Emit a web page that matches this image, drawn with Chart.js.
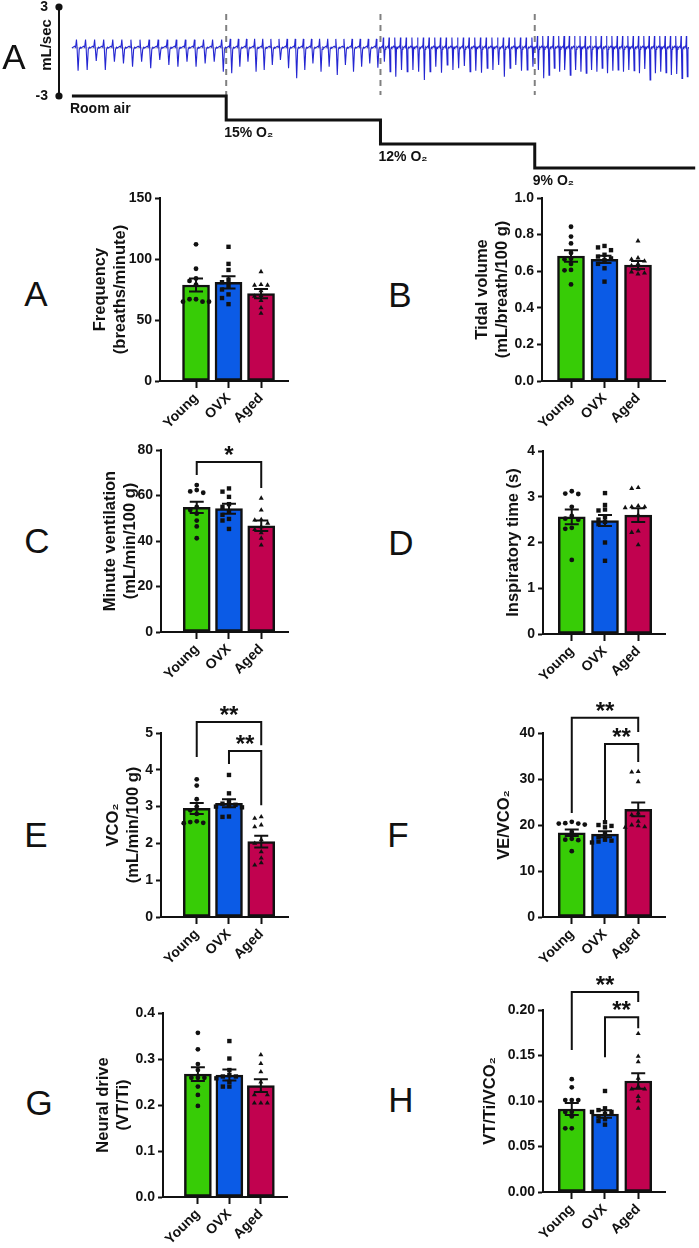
<!DOCTYPE html>
<html>
<head>
<meta charset="utf-8">
<script src="https://cdn.jsdelivr.net/npm/chart.js@4.4.1/dist/chart.umd.min.js"></script>
<style>
  body { margin: 0; background: #fff; width: 699px; height: 1248px; position: relative; overflow: hidden;
         font-family: 'Liberation Sans', Arial, sans-serif; }
  canvas { position: absolute; }
  .lbl { position: absolute; line-height: 1; transform: translate(-50%, -50%); white-space: nowrap; color: #111; }
</style>
</head>
<body>
<script>
// ---------- trace (mL/sec), trough of each breath per condition ----------
const o2Labels = ['Room air', '15% O₂', '12% O₂', '9% O₂'];
const o2Steps = [0, 1, 2, 3];
const roomAirTroughs = [-1.29, -1.25, -0.64, -1.25, -0.69, -0.80, -1.02, -0.69, -1.13, -0.57, -0.91, -1.02, -0.69, -1.02, -0.80, -0.69, -1.36];
const o2_15Troughs = [-1.47, -1.02, -0.69, -1.36, -1.25, -0.91, -0.57, -1.13, -1.81, -1.25, -0.80, -1.36, -1.02, -1.59, -0.91, -1.36, -1.02, -0.80, -1.10];
const o2_12Troughs = [-0.69, -1.36, -1.70, -1.25, -1.36, -1.25, -1.36, -1.92, -1.36, -1.02, -1.43, -0.91, -1.25, -1.13, -0.98, -1.36, -1.29, -1.43, -1.13, -1.25, -0.91, -1.70, -1.13, -0.91, -1.29, -1.25, -1.02];
const o2_9Troughs = [-1.25, -1.81, -1.59, -1.13, -1.36, -1.25, -1.59, -1.25, -1.36, -1.47, -1.25, -1.36, -1.13, -1.47, -1.29, -1.25, -1.36, -1.25, -1.29, -1.47, -1.18, -1.92, -1.47, -1.36, -1.43, -1.59, -1.52, -1.81, -1.70];
const tracePeaks = [0.80, 0.85, 0.95, 1.05];
const traceBaseline = 0.24;
const scaleBar = [-3, 3];

// ---------- bar panels ----------
const groups = ['Young', 'OVX', 'Aged'];

const freqMean = [78.7, 80.9, 71.6];
const freqSem = [5.3, 5.0, 3.8];
const freqYoung = [112, 92, 84, 82, 79, 67, 65, 65, 65, 67];
const freqOvx = [110, 96, 91, 83, 81, 78, 75, 71, 68, 63];
const freqAged = [89.6, 79, 78.5, 78.5, 74, 70, 69.5, 66, 60, 55.5];

const tvMean = [0.683, 0.665, 0.634];
const tvSem = [0.032, 0.020, 0.022];
const tvYoung = [0.843, 0.789, 0.752, 0.70, 0.668, 0.665, 0.64, 0.607, 0.605, 0.528];
const tvOvx = [0.738, 0.73, 0.715, 0.69, 0.68, 0.67, 0.66, 0.64, 0.616, 0.543];
const tvAged = [0.765, 0.672, 0.665, 0.655, 0.64, 0.63, 0.61, 0.596, 0.59, 0.585];

const mvMean = [54.8, 54.2, 46.7];
const mvSem = [2.5, 2.2, 2.3];
const mvYoung = [64.6, 62.4, 61.8, 61.2, 55, 53.6, 52, 49, 46.4, 41.2];
const mvOvx = [63.1, 61.7, 59.4, 56.2, 55.0, 53.1, 51.5, 49.7, 49.0, 45.3];
const mvAged = [58.8, 53.6, 49.4, 49.2, 47.8, 46.2, 45.0, 43.6, 41.2, 38.2];
const mvSig = [[0, 2, 74.7, 69, 63.3, '*']];

const tiMean = [2.56, 2.48, 2.60];
const tiSem = [0.16, 0.12, 0.15];
const tiYoung = [3.12, 3.07, 3.06, 2.78, 2.58, 2.52, 2.5, 2.32, 2.30, 1.62];
const tiOvx = [3.08, 2.82, 2.72, 2.70, 2.55, 2.5, 2.45, 2.40, 2.0, 1.6];
const tiAged = [3.2, 3.18, 2.8, 2.78, 2.78, 2.76, 2.6, 2.25, 2.22, 1.95];

const vco2Mean = [2.95, 3.09, 2.05];
const vco2Sem = [0.15, 0.11, 0.16];
const vco2Young = [3.74, 3.57, 3.2, 3.0, 2.9, 2.8, 2.58, 2.56, 2.55, 2.6];
const vco2Ovx = [3.86, 3.36, 3.15, 3.08, 3.05, 3.02, 3.0, 2.98, 2.73, 2.72];
const vco2Aged = [2.72, 2.68, 2.5, 2.45, 2.1, 2.0, 1.77, 1.6, 1.47, 1.41];
const vco2Sig = [[0, 2, 5.3, 4.35, 4.67, '**'], [1, 2, 4.51, 4.16, 3.04, '**']];

const veMean = [18.3, 18.0, 23.4];
const veSem = [0.7, 0.65, 1.5];
const veYoung = [20.7, 20.4, 20.3, 20.3, 20.1, 18.5, 17.0, 16.8, 16.7, 14.3];
const veOvx = [20.6, 20.0, 19.8, 19.5, 18.0, 17.4, 16.8, 16.6, 16.4, 16.2];
const veAged = [31.6, 31.5, 29.4, 22.6, 22.2, 20.8, 20.0, 19.8, 19.6, 19.5];
const veSig = [[0, 2, 43.3, 22.6, 40.2, '**'], [1, 2, 37.6, 20.2, 33.7, '**']];

const ndMean = [0.267, 0.265, 0.242];
const ndSem = [0.015, 0.012, 0.014];
const ndYoung = [0.357, 0.321, 0.289, 0.276, 0.259, 0.259, 0.259, 0.24, 0.222, 0.198];
const ndOvx = [0.339, 0.301, 0.276, 0.265, 0.262, 0.262, 0.258, 0.25, 0.24, 0.24];
const ndAged = [0.309, 0.29, 0.272, 0.25, 0.229, 0.222, 0.222, 0.204, 0.204, 0.204];

const ndcMean = [0.0912, 0.0857, 0.122];
const ndcSem = [0.0065, 0.004, 0.0085];
const ndcYoung = [0.124, 0.115, 0.101, 0.101, 0.101, 0.088, 0.088, 0.083, 0.070, 0.070];
const ndcOvx = [0.111, 0.092, 0.09, 0.088, 0.088, 0.086, 0.083, 0.08, 0.078, 0.074];
const ndcAged = [0.174, 0.149, 0.143, 0.125, 0.116, 0.113, 0.113, 0.105, 0.1, 0.092];
const ndcSig = [[0, 2, 0.2198, 0.156, 0.2088, '**'], [1, 2, 0.192, 0.148, 0.180, '**']];

// ---------- styling ----------
const INK = '#111';
const FONT = "'Liberation Sans', Arial, sans-serif";
const barColors = ['#37cc06', '#0b5be6', '#c1024f'];
const pointStyles = ['circle', 'rect', 'triangle'];
const pointSizes = [2.4, 3.1, 2.9];
Chart.defaults.font.family = FONT;
Chart.defaults.color = INK;

function addLabel(text, x, y, size, weight, rotate) {
    const d = document.createElement('div');
    d.className = 'lbl';
    d.textContent = text;
    d.style.left = x + 'px';
    d.style.top = y + 'px';
    d.style.fontSize = size + 'px';
    d.style.fontWeight = weight;
    if (rotate) d.style.transform = 'translate(-50%, -50%) rotate(-90deg)';
    document.body.appendChild(d);
}

function addCanvas(left, top, w, h) {
    const cv = document.createElement('canvas');
    cv.width = w;
    cv.height = h;
    cv.style.left = left + 'px';
    cv.style.top = top + 'px';
    document.body.appendChild(cv);
    return cv;
}

// ---------- trace chart ----------
const segTroughs = [roomAirTroughs, o2_15Troughs, o2_12Troughs, o2_9Troughs];
const wave = [];
segTroughs.forEach((troughs, s) => {
    const per = 1 / troughs.length;
    const pk = tracePeaks[s];
    troughs.forEach((v, k) => {
        const t = s + k * per;
        wave.push(
            {x: t, y: traceBaseline},
            {x: t + per * 0.3, y: traceBaseline + 0.12},
            {x: t + per * 0.4, y: traceBaseline + 0.05},
            {x: t + per * 0.5, y: pk},
            {x: t + per * 0.56, y: traceBaseline + 0.1},
            {x: t + per * 0.68, y: v},
            {x: t + per * 0.8, y: traceBaseline - 0.1},
            {x: t + per * 0.92, y: traceBaseline + 0.05}
        );
    });
});

const traceDatasets = [
    {data: wave, borderColor: '#2426d2', borderWidth: 1.1, pointRadius: 0, order: 2},
    {data: [{x: 0, y: traceBaseline}, {x: 4, y: traceBaseline}], borderColor: '#b8b8b8', borderWidth: 1, pointRadius: 0, order: 3},
    {data: scaleBar.map(v => ({x: -0.0839, y: v})), borderColor: INK, borderWidth: 2, pointRadius: 3.6,
     pointBackgroundColor: INK, pointBorderWidth: 0, order: 1, clip: false},
    {data: o2Steps.map(s => ({x: s, y: s})).concat([{x: 4.04, y: 3}]), yAxisID: 'y2', stepped: true,
     borderColor: INK, borderWidth: 3, pointRadius: 0, order: 1, clip: false}
];
o2Steps.slice(1).forEach(s => {
    traceDatasets.push({data: [{x: s, y: 2.53}, {x: s, y: -2.93}], borderColor: '#808080', borderWidth: 2,
        borderDash: [6, 5], pointRadius: 0, order: 4});
});

const traceChart = new Chart(addCanvas(0, 0, 699, 190), {
    type: 'line',
    data: {datasets: traceDatasets},
    options: {
        responsive: false,
        animation: false,
        events: [],
        layout: {padding: {top: 0, right: 1, bottom: 16, left: 0}},
        plugins: {legend: {display: false}, tooltip: {enabled: false}},
        scales: {
            x: {type: 'linear', display: false, min: -0.1097, max: 4.0387},
            y: {
                min: -8, max: 3,
                afterBuildTicks: s => { s.ticks = scaleBar.map(v => ({value: v})); },
                ticks: {padding: 7, color: INK, font: {size: 14, weight: 'bold', lineHeight: 0.4}},
                grid: {display: false, drawTicks: false},
                border: {display: false},
                afterFit: s => { s.width = 55; }
            },
            y2: {display: false, min: -3.71, max: 3.08, reverse: true}
        }
    },
    plugins: [{
        id: 'stepLabels',
        afterDraw(chart) {
            const {ctx, scales: {x, y2}} = chart;
            ctx.save();
            ctx.fillStyle = INK;
            ctx.font = 'bold 14px ' + FONT;
            ctx.textBaseline = 'middle';
            o2Steps.forEach((s, i) => {
                ctx.fillText(o2Labels[i], x.getPixelForValue(s) - 2, y2.getPixelForValue(s) + 13);
            });
            ctx.restore();
        }
    }]
});

// pin the scale bar (3 at y=7, -3 at y=96) and the O2 steps (y=96 .. 168) to the plot area Chart.js settled on
(function pinTrace() {
    const {top, bottom} = traceChart.chartArea;
    const k = (96 - 7) / (scaleBar[1] - scaleBar[0]);
    traceChart.options.scales.y.max = scaleBar[1] + (7 - top) / k;
    traceChart.options.scales.y.min = scaleBar[0] - (bottom - 96) / k;
    const k2 = (168 - 96) / (o2Steps[3] - o2Steps[0]);
    traceChart.options.scales.y2.min = o2Steps[0] - (96 - top) / k2;
    traceChart.options.scales.y2.max = o2Steps[3] + (bottom - 168) / k2;
    traceChart.update();
})();

addLabel('A', 14, 56, 35, 'normal');
addLabel('mL/sec', 45, 45, 15, 'bold', true);

// ---------- bar panels ----------
const colRange = [{min: -1.108, max: 2.83}, {min: -0.866, max: 2.806}];

const panels = [
    {letter: 'A', at: [36, 293], col: 0, area: [160, 198, 288, 381], max: 150, step: 50, dec: 0,
     title: ['Frequency', '(breaths/minute)'], titleX: 100, mean: freqMean, sem: freqSem, pts: [freqYoung, freqOvx, freqAged], sig: []},
    {letter: 'B', at: [400, 294], col: 1, area: [542, 198, 665, 381], max: 1.0, step: 0.2, dec: 1,
     title: ['Tidal volume', '(mL/breath/100 g)'], titleX: 482, mean: tvMean, sem: tvSem, pts: [tvYoung, tvOvx, tvAged], sig: []},
    {letter: 'C', at: [37, 540], col: 0, area: [161, 450, 288, 632], max: 80, step: 20, dec: 0,
     title: ['Minute ventilation', '(mL/min/100 g)'], titleX: 110, mean: mvMean, sem: mvSem, pts: [mvYoung, mvOvx, mvAged], sig: mvSig},
    {letter: 'D', at: [401, 542], col: 1, area: [543, 451, 665, 634], max: 4, step: 1, dec: 0,
     title: ['Inspiratory time (s)'], titleX: 513, mean: tiMean, sem: tiSem, pts: [tiYoung, tiOvx, tiAged], sig: []},
    {letter: 'E', at: [36, 834], col: 0, area: [161, 733, 288, 917], max: 5, step: 1, dec: 0,
     title: ['VCO₂', '(mL/min/100 g)'], titleX: 113, mean: vco2Mean, sem: vco2Sem, pts: [vco2Young, vco2Ovx, vco2Aged], sig: vco2Sig},
    {letter: 'F', at: [398, 834], col: 1, area: [543, 733, 665, 917], max: 40, step: 10, dec: 0,
     title: ['VE/VCO₂'], titleX: 504, mean: veMean, sem: veSem, pts: [veYoung, veOvx, veAged], sig: veSig},
    {letter: 'G', at: [39, 1102], col: 0, area: [163, 1013, 287, 1197], max: 0.4, step: 0.1, dec: 1,
     title: ['Neural drive', '(VT/Ti)'], titleX: 103, mean: ndMean, sem: ndSem, pts: [ndYoung, ndOvx, ndAged], sig: []},
    {letter: 'H', at: [401, 1099], col: 1, area: [543, 1010, 665, 1192], max: 0.2, step: 0.05, dec: 2,
     title: ['VT/Ti/VCO₂'], titleX: 490, mean: ndcMean, sem: ndcSem, pts: [ndcYoung, ndcOvx, ndcAged], sig: ndcSig}
];

// spread points that sit at nearly the same height side by side
function swarm(vals, pxPerVal) {
    const placed = [];
    const off = vals.map(() => 0);
    vals.map((v, i) => i).sort((a, b) => vals[b] - vals[a]).forEach(i => {
        const py = vals[i] * pxPerVal;
        for (const k of [0, -1, 1, -2, 2, -3, 3]) {
            const dx = k * 6.5;
            if (!placed.some(q => Math.abs(q.py - py) < 4.5 && Math.abs(q.dx - dx) < 6)) {
                placed.push({py, dx});
                off[i] = dx;
                break;
            }
        }
    });
    return off;
}

function makePanel(p) {
    const [L, T, R, B] = p.area;
    const range = colRange[p.col];
    const yW = 80, padTop = 48, padRight = 6, xH = 62;
    const cl = L - yW, ct = T - padTop;
    const cv = addCanvas(cl, ct, R - cl + padRight, B + xH - ct);
    const pxPerVal = (B - T) / p.max;
    const pxPerX = (R - L) / (range.max - range.min);
    const titleSize = 16.5, titleLh = 1.22;

    const datasets = [{
        type: 'bar',
        data: p.mean.map((m, i) => ({x: i, y: m})),
        backgroundColor: barColors,
        borderColor: INK,
        borderWidth: 2.5,
        borderSkipped: false,
        barThickness: 27,
        order: 2
    }];
    p.pts.forEach((vals, g) => {
        const off = swarm(vals, pxPerVal);
        datasets.push({
            type: 'scatter',
            data: vals.map((v, k) => ({x: g + off[k] / pxPerX, y: v})),
            pointStyle: pointStyles[g],
            pointRadius: pointSizes[g],
            backgroundColor: INK,
            borderWidth: 0,
            order: 1
        });
    });

    new Chart(cv, {
        type: 'bar',
        data: {datasets},
        options: {
            responsive: false,
            animation: false,
            events: [],
            layout: {padding: {top: padTop, right: padRight, left: 0, bottom: 0}},
            plugins: {legend: {display: false}, tooltip: {enabled: false}},
            scales: {
                x: {
                    type: 'linear', min: range.min, max: range.max, offset: false,
                    afterBuildTicks: s => { s.ticks = groups.map((g, i) => ({value: i})); },
                    ticks: {autoSkip: false, minRotation: 45, maxRotation: 45, padding: 2, color: INK,
                            font: {size: 14, weight: 'bold'}, callback: v => groups[v]},
                    grid: {offset: false, drawOnChartArea: false, tickLength: 7, tickWidth: 2, tickColor: INK},
                    border: {color: INK, width: 2},
                    afterFit: s => { s.height = xH; }
                },
                y: {
                    min: 0, max: p.max,
                    ticks: {stepSize: p.step, padding: 3, color: INK, font: {size: 14, weight: 'bold'},
                            callback: v => v.toFixed(p.dec)},
                    grid: {drawOnChartArea: false, tickLength: 5, tickWidth: 2, tickColor: INK},
                    border: {color: INK, width: 2},
                    title: {display: true, text: p.title, color: INK,
                            font: {size: titleSize, weight: 'bold', lineHeight: titleLh},
                            padding: {top: p.titleX - cl - titleSize * titleLh / 2, bottom: 0}},
                    afterFit: s => { s.width = yW; }
                }
            }
        },
        plugins: [{
            id: 'errorBars',
            afterDatasetDraw(chart, args) {
                if (args.index !== 0) return;
                const {ctx, scales: {x, y}} = chart;
                ctx.save();
                ctx.strokeStyle = INK;
                ctx.lineWidth = 2;
                p.mean.forEach((m, i) => {
                    const px = x.getPixelForValue(i);
                    const hi = y.getPixelForValue(m + p.sem[i]);
                    const lo = y.getPixelForValue(m - p.sem[i]);
                    ctx.beginPath();
                    ctx.moveTo(px, hi); ctx.lineTo(px, lo);
                    ctx.moveTo(px - 7, hi); ctx.lineTo(px + 7, hi);
                    ctx.moveTo(px - 7, lo); ctx.lineTo(px + 7, lo);
                    ctx.stroke();
                });
                ctx.restore();
            }
        }, {
            id: 'brackets',
            afterDraw(chart) {
                const {ctx, scales: {x, y}} = chart;
                ctx.save();
                ctx.strokeStyle = INK;
                ctx.fillStyle = INK;
                ctx.lineWidth = 2;
                ctx.font = 'bold 24px ' + FONT;
                ctx.textAlign = 'center';
                ctx.textBaseline = 'alphabetic';
                p.sig.forEach(([a, b, top, lEnd, rEnd, mark]) => {
                    const xa = x.getPixelForValue(a), xb = x.getPixelForValue(b);
                    const yt = y.getPixelForValue(top);
                    ctx.beginPath();
                    ctx.moveTo(xa, y.getPixelForValue(lEnd));
                    ctx.lineTo(xa, yt);
                    ctx.lineTo(xb, yt);
                    ctx.lineTo(xb, y.getPixelForValue(rEnd));
                    ctx.stroke();
                    ctx.fillText(mark, (xa + xb) / 2, yt + 1);
                });
                ctx.restore();
            }
        }]
    });

    addLabel(p.letter, p.at[0], p.at[1], 35, 'normal');
}

panels.forEach(makePanel);
</script>
</body>
</html>
